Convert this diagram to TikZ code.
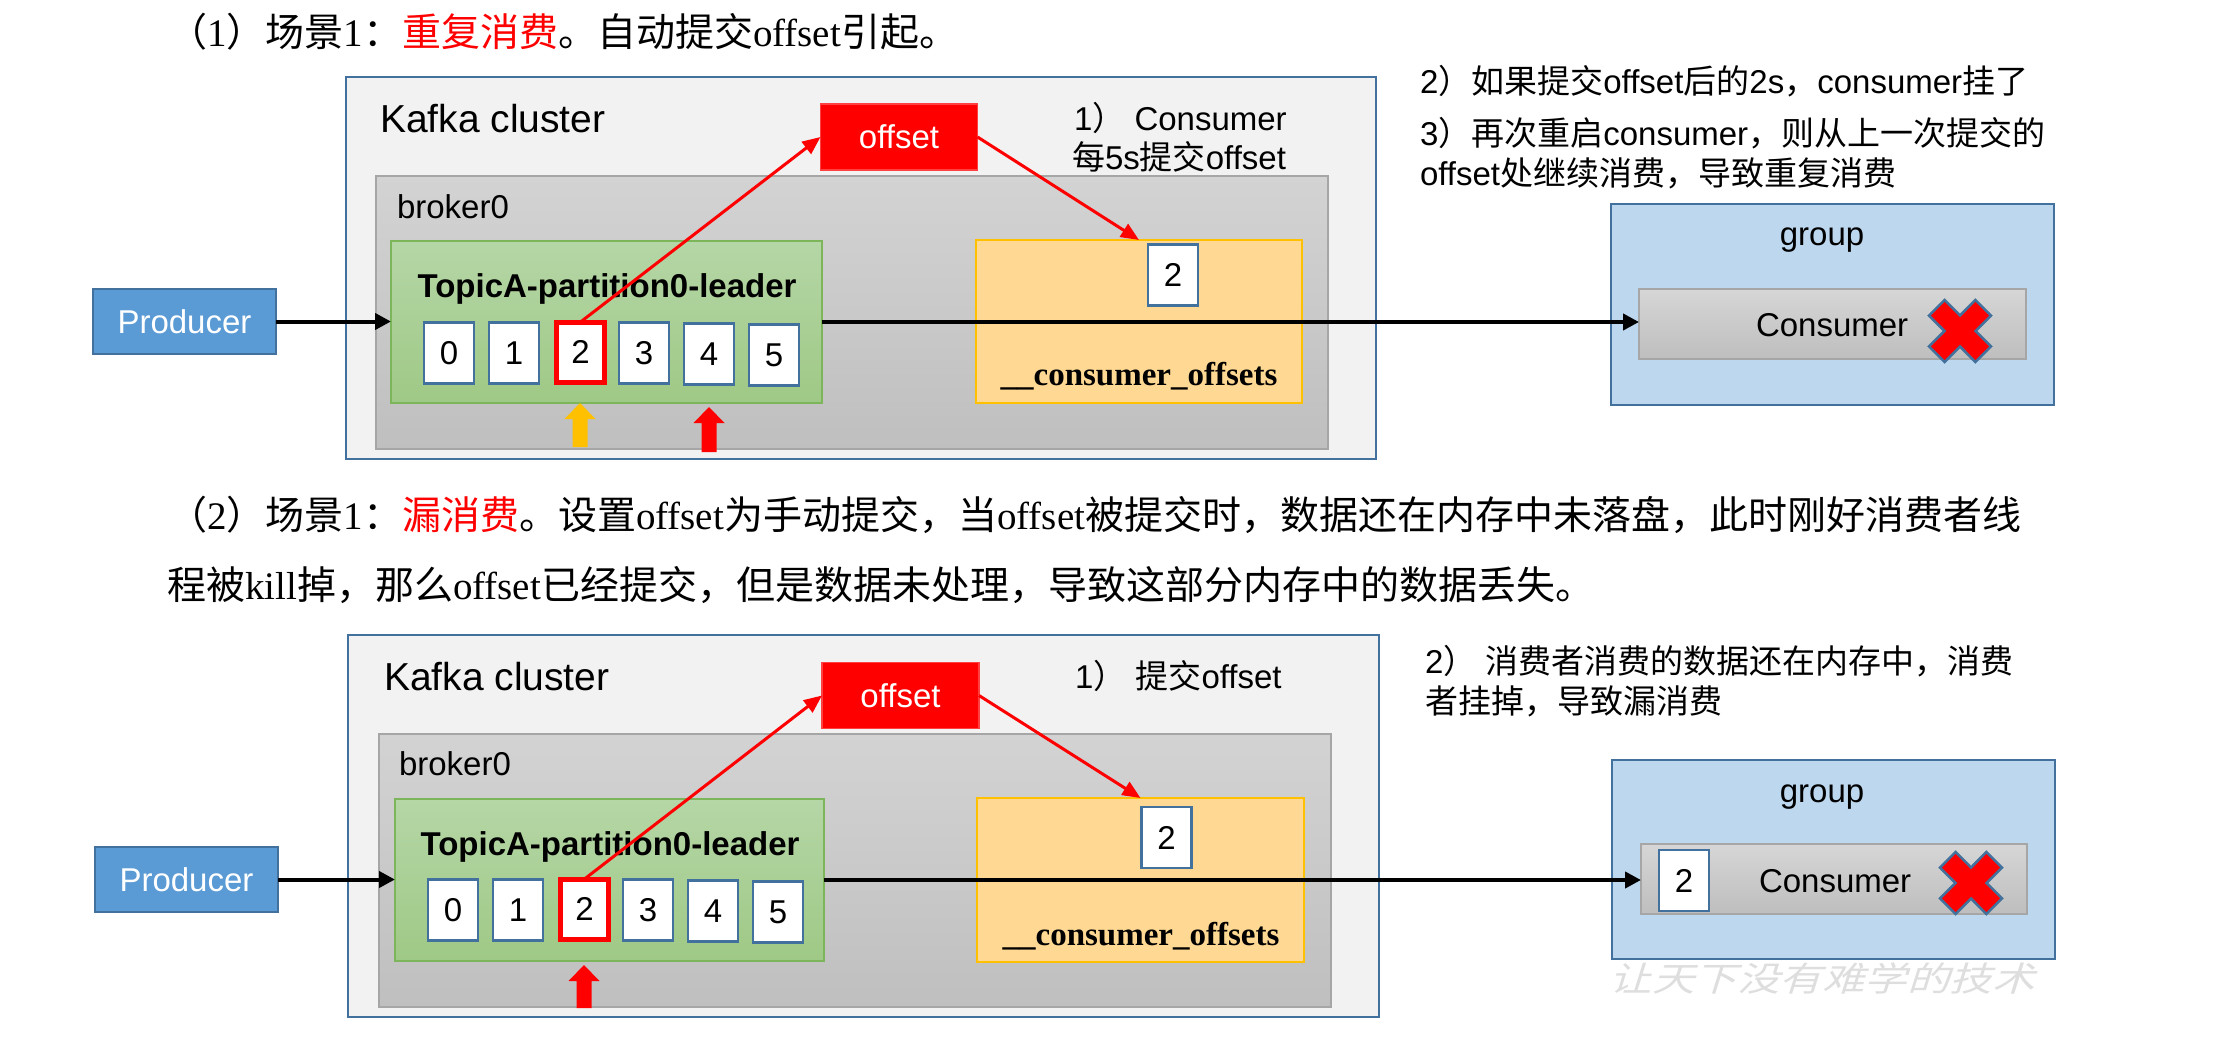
\documentclass[tikz,border=0pt]{standalone}
\usepackage{fontspec}
\setmainfont{Liberation Serif}
\setsansfont{Liberation Sans}
\newfontfamily\cjk{Noto Sans CJK SC}
\newfontfamily\wmcjk{Noto Sans CJK SC}[FakeSlant=0.25]
\usetikzlibrary{arrows.meta}
\newcommand\C[1]{{\cjk #1}}
\newcommand\myfs[1]{\fontsize{#1}{#1}\selectfont}
\newcommand\rectnode[6]{\node[#1, anchor=north west, minimum width={(#5-#3)*1pt}, minimum height={(#6-#4)*1pt}] (#2) at (#3,#4) {};}
\newcommand\blockup[4]{\fill[#1] (#2-15.5,#3+16) -- (#2,#3) -- (#2+15.5,#3+16) -- (#2+7.5,#3+16) -- (#2+7.5,#4) -- (#2-7.5,#4) -- (#2-7.5,#3+16) -- cycle;}
\newcommand\xcross[2]{\filldraw[fill=red, draw=bblue, line width=2.5pt, shift={(#1,#2)}] (15.5,0) -- (31,15.4) -- (15.4,31) -- (0,15.5) -- (-15.4,31) -- (-31,15.4) -- (-15.5,0) -- (-31,-15.4) -- (-15.4,-31) -- (0,-15.5) -- (15.4,-31) -- (31,-15.4) -- cycle;}
\definecolor{kfill}{HTML}{F2F2F2}
\definecolor{bblue}{HTML}{41719C}
\definecolor{prodblue}{HTML}{5B9BD5}
\definecolor{grpblue}{HTML}{BDD7EE}
\definecolor{brtop}{HTML}{D3D3D3}
\definecolor{brbot}{HTML}{BFBFBF}
\definecolor{brline}{HTML}{A6A6A6}
\definecolor{gtop}{HTML}{B5D6A6}
\definecolor{gbot}{HTML}{9FC986}
\definecolor{gline}{HTML}{7DB55A}
\definecolor{yfill}{HTML}{FFD993}
\definecolor{yline}{HTML}{FFC000}
\definecolor{ctop}{HTML}{D6D6D6}
\definecolor{cbot}{HTML}{BEBEBE}
\begin{document}
\begin{tikzpicture}[x=1pt, y=-1pt,
  every node/.style={inner sep=0pt, outer sep=0pt},
  kafkabox/.style={draw=bblue, fill=kfill, line width=2.5pt},
  brokerbox/.style={draw=brline, line width=1.5pt, top color=brtop, bottom color=brbot},
  greenbox/.style={draw=gline, line width=1.5pt, top color=gtop, bottom color=gbot},
  yellowbox/.style={draw=yline, line width=2pt, fill=yfill},
  cellbox/.style={draw=bblue, line width=2.5pt, fill=white, minimum width=50pt, minimum height=61pt, font=\sffamily\myfs{33}},
  redcell/.style={cellbox, draw=red, line width=5pt, minimum width=48pt, minimum height=60pt},
  prodbox/.style={draw=bblue, fill=prodblue, line width=2.5pt, minimum width=183pt, minimum height=65pt, text=white, font=\sffamily\myfs{33}},
  offbox/.style={fill=red, draw=red!75!white, line width=1.5pt, minimum width=157pt, minimum height=66pt, text=white, font=\sffamily\myfs{33}},
  grpbox/.style={draw=bblue, fill=grpblue, line width=2.5pt},
  consbox/.style={draw=brline, line width=1.5pt, top color=ctop, bottom color=cbot},
  lbl/.style={font=\sffamily\myfs{33}, anchor=base west},
  clbl/.style={font=\sffamily\myfs{33}, anchor=base},
  biglbl/.style={font=\sffamily\myfs{39}, anchor=base west},
  boldlbl/.style={font=\sffamily\bfseries\myfs{33}, anchor=base},
  serifbold/.style={font=\rmfamily\bfseries\myfs{33}, anchor=base},
  titlelbl/.style={font=\rmfamily\myfs{39}, anchor=base west},
  arr/.style={line width=4pt, -{Triangle[length=16pt,width=16pt]}},
  redarr/.style={draw=red, line width=3pt, -{Triangle[length=18pt,width=15pt]}}]
\useasboundingbox (0,0) rectangle (2239,1049);

% ---------------- titles ----------------
\node[titlelbl] (t1) at (168,47) {\C{（}1\C{）场景}1\C{：}\textcolor{red}{\C{重复消费}}\C{。自动提交}offset\C{引起。}};
\node[titlelbl] (t2) at (168,529) {\C{（}2\C{）场景}1\C{：}\textcolor{red}{\C{漏消费}}\C{。设置}offset\C{为手动提交，当}offset\C{被提交时，数据还在内存中未落盘，此时刚好消费者线}};
\node[titlelbl] (t3) at (167,599) {\C{程被}kill\C{掉，那么}offset\C{已经提交，但是数据未处理，导致这部分内存中的数据丢失。}};

% ---------------- top diagram ----------------
\node[prodbox] (aprod) at (184.5,321.5) {Producer};
\rectnode{kafkabox}{akafka}{346}{77}{1376}{459}
\node[biglbl] (akafkat) at (380,132) {Kafka cluster};
\rectnode{brokerbox}{abroker}{376}{176}{1328}{449}
\node[lbl] (abrokert) at (397,218) {broker0};
\rectnode{greenbox}{agreen}{391}{241}{822}{403}
\node[boldlbl] (atopic) at (607,297) {TopicA-partition0-leader};
\node[cellbox] (ac0) at (449,353) {0};
\node[cellbox] (ac1) at (514,353) {1};
\node[redcell] (ac2) at (580.5,352) {2};
\node[cellbox] (ac3) at (644,353) {3};
\node[cellbox] (ac4) at (709,354) {4};
\node[cellbox] (ac5) at (774,355) {5};
\node[offbox] (aoff) at (899,137) {offset};
\node[lbl] (anote1) at (1074,130) {1\C{）} Consumer};
\node[lbl] (anote1b) at (1072,169) {\C{每}5s\C{提交}offset};
\rectnode{yellowbox}{ayel}{976}{240}{1302}{403}
\node[cellbox] (ay2) at (1173,275) {2};
\node[serifbold] (ayelt) at (1139,385) {\_\_consumer\_offsets};
\blockup{yline}{580}{403}{447}
\blockup{red}{709}{407}{452}
\node[lbl] (anote2) at (1420,93) {2\C{）如果提交}offset\C{后的}2s\C{，}consumer\C{挂了}};
\node[lbl] (anote3) at (1420,145) {3\C{）再次重启}consumer\C{，则从上一次提交的}};
\node[lbl] (anote3b) at (1420,185) {offset\C{处继续消费，导致重复消费}};
\rectnode{grpbox}{agrp}{1611}{204}{2054}{405}
\node[clbl] (agrpt) at (1822,245) {group};
\rectnode{consbox}{acons}{1639}{289}{2026}{359}
\node[lbl] (aconst) at (1756,336) {Consumer};
\xcross{1960}{331}
\draw[arr] (aprod.east) -- (aprod.east -| agreen.west);
\draw[arr] (agreen.east) -- (agreen.east -| acons.west);
\draw[redarr] (ac2.north) -- (aoff.west);
\draw[redarr] (aoff.east) -- (ayel.north);

% ---------------- bottom diagram ----------------
\node[prodbox] (bprod) at (186.5,879.5) {Producer};
\rectnode{kafkabox}{bkafka}{348}{635}{1379}{1017}
\node[biglbl] (bkafkat) at (384,690) {Kafka cluster};
\rectnode{brokerbox}{bbroker}{379}{734}{1331}{1007}
\node[lbl] (bbrokert) at (399,775) {broker0};
\rectnode{greenbox}{bgreen}{395}{799}{824}{961}
\node[boldlbl] (btopic) at (610,855) {TopicA-partition0-leader};
\node[cellbox] (bc0) at (453,910) {0};
\node[cellbox] (bc1) at (518,910) {1};
\node[redcell] (bc2) at (584.5,909) {2};
\node[cellbox] (bc3) at (648,910) {3};
\node[cellbox] (bc4) at (713,911) {4};
\node[cellbox] (bc5) at (778,912) {5};
\node[offbox] (boff) at (900.5,695.5) {offset};
\node[lbl] (bnote1) at (1075,688) {1\C{）} \C{提交}offset};
\rectnode{yellowbox}{byel}{977}{798}{1304}{962}
\node[cellbox] (by2) at (1166.5,837.5) {2};
\node[serifbold] (byelt) at (1141,945) {\_\_consumer\_offsets};
\blockup{red}{584}{965}{1008}
\node[lbl] (bnote2) at (1425,673) {2\C{）} \C{消费者消费的数据还在内存中，消费}};
\node[lbl] (bnote2b) at (1425,713) {\C{者挂掉，导致漏消费}};
\rectnode{grpbox}{bgrp}{1612}{760}{2055}{959}
\node[clbl] (bgrpt) at (1822,802) {group};
\rectnode{consbox}{bcons}{1641}{844}{2027}{914}
\node[cellbox] (bcons2) at (1684,880.5) {2};
\node[lbl] (bconst) at (1759,892) {Consumer};
\xcross{1971}{883}
\draw[arr] (bprod.east) -- (bprod.east -| bgreen.west);
\draw[arr] (bgreen.east) -- (bgreen.east -| bcons.west);
\draw[redarr] (bc2.north) -- (boff.west);
\draw[redarr] (boff.east) -- (byel.north);

% watermark
\node[font=\wmcjk\myfs{34}, text=black!13] (wm) at (1822,978) {\scalebox{1.25}[1]{让天下没有难学的技术}};
\end{tikzpicture}
\end{document}
